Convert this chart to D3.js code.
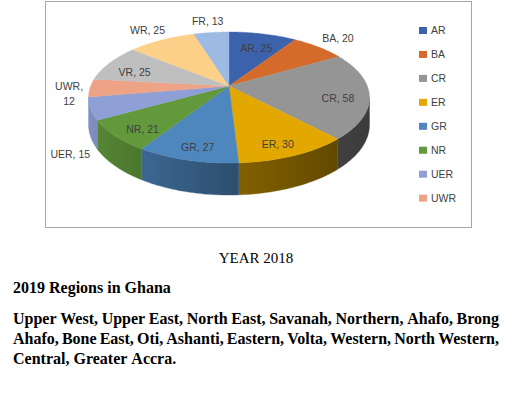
<!DOCTYPE html>
<html><head><meta charset="utf-8">
<script src="https://cdn.jsdelivr.net/npm/d3@7"></script>
<style>body{margin:0;background:#fff}svg{display:block}</style>
</head><body>
<script>
// ---- data ----
const categories = ["AR","BA","CR","ER","GR","NR","UER","UWR","VR","WR","FR"];
const values     = [25,20,58,30,27,21,15,12,25,25,13];
const sliceColors = ["#3D62AC","#D56B2A","#959595","#E2A800","#4E86BE","#62993C","#8E9FD5","#EEA286","#BFBFBF","#FDD089","#9CBAE2"];
const legendItems = ["AR","BA","CR","ER","GR","NR","UER","UWR"];
const outsideLabels = ["BA","UER","UWR","WR","FR"];
const wrappedLabels = ["UWR"];
const caption = "YEAR 2018";
const heading = "2019 Regions in Ghana";
const paragraphLines = [
  "Upper West, Upper East, North East, Savanah, Northern, Ahafo, Brong",
  "Ahafo, Bone East, Oti, Ashanti, Eastern, Volta, Western, North Western,",
  "Central, Greater Accra."
];

const W = 509, H = 396;
const svg = d3.select("body").append("svg").attr("width", W).attr("height", H);
const defs = svg.append("defs");

// chart frame
svg.append("rect").attr("x", 45.5).attr("y", 1.5).attr("width", 426).attr("height", 226)
  .attr("fill", "#fff").attr("stroke", "#A6A6A6").attr("stroke-width", 1);

const color = d3.scaleOrdinal(categories, sliceColors);

// perspective projection of the pie disc
const CX = 229, A = 138.3, DZ = 48.38, F = 86, G = -0.1756, DEPTH = 26.4;
function P(r, a, h) {
  const X = r * Math.sin(a), Z = -r * Math.cos(a), w = 1 + G * Z;
  return [CX + A * X / w, (DZ * Z + F + DEPTH * h) / w];
}
function rim(a0, a1, r, h) {
  const n = Math.max(2, Math.ceil((a1 - a0) / (Math.PI / 180)));
  return d3.range(n + 1).map(i => P(r, a0 + (a1 - a0) * i / n, h));
}
const line = d3.line();

const data = categories.map((c, i) => ({ name: c, value: values[i] }));
const arcs = d3.pie().sort(null).value(d => d.value).startAngle(0).endAngle(2 * Math.PI)(data);

// visible side range
const S0 = Math.acos(G), S1 = 2 * Math.PI - Math.acos(G);
const darkAt = x => 0.3 + 2.3 * Math.max(0, Math.min(1, (x - 88) / 281));

const sides = svg.append("g");
arcs.forEach((d, i) => {
  const a0 = Math.max(d.startAngle, S0), a1 = Math.min(d.endAngle, S1);
  if (a1 <= a0) return;
  const top = rim(a0, a1, 1, 0), bot = rim(a0, a1, 1, 1).reverse();
  const xs = top.map(p => p[0]);
  const xl = d3.min(xs), xr = d3.max(xs);
  const c = d3.color(color(d.data.name));
  const gid = "side" + i;
  const lg = defs.append("linearGradient").attr("id", gid).attr("gradientUnits", "userSpaceOnUse")
    .attr("x1", xl).attr("x2", xr).attr("y1", 0).attr("y2", 0);
  lg.append("stop").attr("offset", 0).attr("stop-color", c.darker(darkAt(xl)).formatHex());
  lg.append("stop").attr("offset", 1).attr("stop-color", c.darker(darkAt(xr)).formatHex());
  sides.append("path").attr("d", line(top.concat(bot)) + "Z").attr("fill", "url(#" + gid + ")")
    .attr("stroke", "url(#" + gid + ")").attr("stroke-width", 0.4);
});

const tops = svg.append("g");
const apex = P(0, 0, 0);
arcs.forEach(d => {
  const pts = [apex].concat(rim(d.startAngle, d.endAngle, 1, 0));
  tops.append("path").attr("d", line(pts) + "Z").attr("fill", color(d.data.name))
    .attr("stroke", color(d.data.name)).attr("stroke-width", 0.4).attr("stroke-linejoin", "round");
});

// data labels
const labelFont = "'Liberation Sans', Arial, sans-serif";
const nudge = { UER: [2, 42], UWR: [0, 3] };
const labels = svg.append("g").attr("font-family", labelFont).attr("font-size", "10.5px").attr("fill", "#404040")
  .attr("text-anchor", "middle");
arcs.forEach(d => {
  const name = d.data.name, mid = (d.startAngle + d.endAngle) / 2;
  const outside = outsideLabels.includes(name);
  const r = outside ? (wrappedLabels.includes(name) || name === "UER" ? 1.15 : 1.25) : 0.78;
  const p = P(r, mid, outside ? 0 : 0.2);
  const nd = nudge[name] || [0, 0];
  const x = p[0] + nd[0], y = p[1] + nd[1];
  const t = labels.append("text").attr("x", x).attr("y", y);
  if (wrappedLabels.includes(name)) {
    t.append("tspan").attr("x", x).attr("dy", "-0.15em").text(name + ",");
    t.append("tspan").attr("x", x).attr("dy", "1.5em").text(d.data.value);
  } else {
    t.attr("dy", "0.35em").text(name + ", " + d.data.value);
  }
});

// legend
const ly = d3.scalePoint().domain(legendItems).range([30.5, 30.5 + 7 * 23.95]);
const leg = svg.append("g").attr("font-family", labelFont).attr("font-size", "10.5px").attr("fill", "#404040");
legendItems.forEach(n => {
  leg.append("rect").attr("x", 419).attr("y", ly(n) - 3.5).attr("width", 8).attr("height", 7).attr("fill", color(n));
  leg.append("text").attr("x", 431).attr("y", ly(n)).attr("dy", "0.36em").text(n);
});

// text below the chart
const serif = "'Liberation Serif', 'Times New Roman', serif";
svg.append("text").attr("x", 256).attr("y", 263).attr("text-anchor", "middle")
  .attr("font-family", serif).attr("font-size", "15px").attr("fill", "#000").text(caption);
svg.append("text").attr("x", 13).attr("y", 293).attr("font-family", serif).attr("font-weight", "bold")
  .attr("font-size", "16px").attr("fill", "#000").text(heading);

const px0 = 13, px1 = 499;
paragraphLines.forEach((ln, li) => {
  const y = 324 + li * 20;
  const g = svg.append("g").attr("font-family", serif).attr("font-weight", "bold").attr("font-size", "16px").attr("fill", "#000");
  const words = ln.split(" ");
  const justify = li < paragraphLines.length - 1;
  const nodes = words.map(w => g.append("text").attr("y", y).text(w));
  const widths = nodes.map(n => n.node().getComputedTextLength());
  const spaceW = 4;
  const gap = justify ? (px1 - px0 - d3.sum(widths)) / (words.length - 1) : spaceW;
  let x = px0;
  nodes.forEach((n, i) => { n.attr("x", x); x += widths[i] + gap; });
});
</script>
</body></html>
